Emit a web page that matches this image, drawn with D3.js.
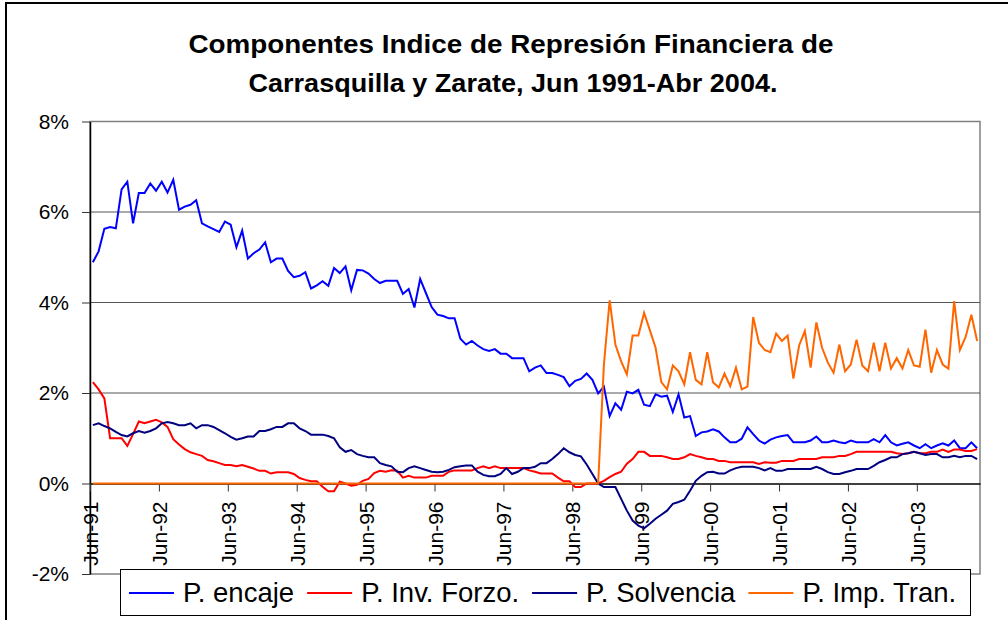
<!DOCTYPE html>
<html>
<head>
<meta charset="utf-8">
<script src="https://cdn.jsdelivr.net/npm/d3@7"></script>
<style>
  body { margin: 0; background: #fff; }
  text { font-family: "Liberation Sans", Arial, sans-serif; }
</style>
</head>
<body>
<svg id="chart" width="1008" height="620"></svg>
<script>
// monthly categories, Jun-91 .. Apr-04
var months = d3.timeMonth.range(new Date(1991, 5, 1), new Date(2004, 4, 1));
var xLabels = ["Jun-91","Jun-92","Jun-93","Jun-94","Jun-95","Jun-96","Jun-97","Jun-98","Jun-99","Jun-00","Jun-01","Jun-02","Jun-03"];
var yTicks = [-2, 0, 2, 4, 6, 8];

var encaje = [
  4.89,5.13,5.63,5.67,5.64,6.50,6.67,5.75,6.42,6.42,
  6.63,6.47,6.67,6.43,6.71,6.05,6.12,6.16,6.26,5.75,
  5.68,5.62,5.56,5.79,5.72,5.22,5.59,4.97,5.09,5.17,
  5.33,4.89,4.97,4.97,4.70,4.56,4.59,4.67,4.31,4.38,
  4.47,4.37,4.76,4.65,4.80,4.27,4.72,4.71,4.64,4.52,
  4.43,4.48,4.48,4.48,4.19,4.30,3.89,4.52,4.21,3.90,
  3.73,3.70,3.65,3.65,3.20,3.07,3.15,3.05,2.97,2.93,
  2.97,2.87,2.87,2.77,2.77,2.77,2.48,2.56,2.61,2.44,
  2.44,2.40,2.35,2.15,2.27,2.31,2.43,2.29,1.99,2.14,
  1.49,1.77,1.63,2.03,1.99,2.07,1.74,1.71,1.97,1.92,
  1.94,1.58,1.97,1.46,1.49,1.05,1.13,1.15,1.20,1.15,
  1.02,0.91,0.91,0.99,1.24,1.09,0.95,0.88,0.97,1.02,
  1.05,1.07,0.91,0.91,0.91,0.95,1.04,0.91,0.91,0.95,
  0.91,0.89,0.95,0.91,0.91,0.91,0.98,0.91,1.07,0.91,
  0.84,0.88,0.91,0.84,0.78,0.87,0.78,0.84,0.89,0.84,
  0.95,0.78,0.78,0.91,0.78
];
var invForzo = [
  2.24,2.08,1.88,1.00,1.00,1.00,0.83,1.09,1.37,1.33,
  1.37,1.41,1.35,1.25,0.98,0.86,0.76,0.69,0.65,0.61,
  0.52,0.49,0.45,0.41,0.41,0.38,0.41,0.37,0.33,0.28,
  0.28,0.22,0.25,0.25,0.25,0.21,0.12,0.08,0.05,0.05,
  -0.07,-0.17,-0.17,0.04,0.00,-0.05,-0.03,0.06,0.10,0.23,
  0.28,0.26,0.29,0.28,0.13,0.17,0.13,0.13,0.13,0.17,
  0.17,0.17,0.26,0.29,0.29,0.29,0.29,0.34,0.38,0.34,
  0.38,0.34,0.34,0.34,0.34,0.34,0.29,0.26,0.22,0.22,
  0.22,0.13,0.05,0.05,-0.08,-0.08,0.00,0.00,0.00,0.06,
  0.14,0.21,0.26,0.44,0.54,0.70,0.70,0.61,0.61,0.61,
  0.58,0.54,0.54,0.58,0.65,0.61,0.58,0.54,0.54,0.50,
  0.50,0.47,0.47,0.47,0.47,0.47,0.43,0.47,0.46,0.46,
  0.50,0.50,0.50,0.54,0.54,0.54,0.54,0.58,0.58,0.58,
  0.61,0.61,0.65,0.70,0.70,0.70,0.70,0.70,0.70,0.70,
  0.67,0.65,0.67,0.70,0.67,0.67,0.70,0.70,0.75,0.70,
  0.75,0.75,0.72,0.72,0.76
];
var solvencia = [
  1.29,1.33,1.27,1.22,1.14,1.07,1.04,1.11,1.16,1.12,
  1.16,1.22,1.33,1.36,1.33,1.29,1.29,1.33,1.22,1.29,
  1.29,1.25,1.18,1.11,1.03,0.97,1.00,1.04,1.04,1.16,
  1.16,1.20,1.25,1.25,1.33,1.33,1.22,1.16,1.08,1.08,
  1.08,1.05,1.00,0.80,0.70,0.74,0.65,0.61,0.58,0.58,
  0.45,0.41,0.38,0.26,0.25,0.34,0.38,0.34,0.30,0.26,
  0.25,0.26,0.30,0.36,0.38,0.40,0.40,0.26,0.19,0.16,
  0.16,0.21,0.34,0.21,0.26,0.34,0.34,0.37,0.45,0.45,
  0.54,0.65,0.78,0.69,0.63,0.60,0.42,0.21,0.00,-0.08,
  -0.08,-0.08,-0.34,-0.60,-0.82,-0.93,-0.99,-0.89,-0.78,-0.69,
  -0.60,-0.45,-0.41,-0.36,-0.16,0.06,0.17,0.25,0.26,0.22,
  0.22,0.29,0.34,0.37,0.37,0.37,0.34,0.29,0.34,0.28,
  0.28,0.32,0.32,0.32,0.32,0.32,0.37,0.32,0.25,0.21,
  0.21,0.25,0.28,0.32,0.32,0.32,0.39,0.47,0.52,0.58,
  0.58,0.65,0.67,0.70,0.67,0.63,0.65,0.65,0.58,0.58,
  0.61,0.58,0.61,0.61,0.54
];
var impTran = [
  0,0,0,0,0,0,0,0,0,0,
  0,0,0,0,0,0,0,0,0,0,
  0,0,0,0,0,0,0,0,0,0,
  0,0,0,0,0,0,0,0,0,0,
  0,0,0,0,0,0,0,0,0,0,
  0,0,0,0,0,0,0,0,0,0,
  0,0,0,0,0,0,0,0,0,0,
  0,0,0,0,0,0,0,0,0,0,
  0,0,0,0,0,0,0,0,0,2.63,
  4.05,3.07,2.70,2.41,3.27,3.27,3.77,3.39,3.00,2.24,
  2.08,2.61,2.48,2.19,2.90,2.29,2.19,2.90,2.24,2.12,
  2.43,2.15,2.56,2.08,2.14,3.68,3.11,2.95,2.90,3.31,
  3.15,3.27,2.32,3.05,3.37,2.56,3.56,3.00,2.67,2.45,
  3.07,2.48,2.63,3.18,2.61,2.48,3.11,2.48,3.11,2.54,
  2.77,2.54,2.95,2.61,2.58,3.40,2.45,2.95,2.63,2.54,
  4.03,2.95,3.24,3.73,3.15
];

var seriesNames = ["P. encaje", "P. Inv. Forzo.", "P. Solvencia", "P. Imp. Tran."];
var seriesColors = ["#0000ff", "#ff0000", "#000080", "#ff6600"];
var seriesData = [encaje, invForzo, solvencia, impTran];

var svg = d3.select("#chart");

var plotLeft = 90, plotRight = 980, plotTop = 121.5, plotBottom = 574;

var x = d3.scaleLinear().domain([0, months.length]).range([plotLeft, plotRight]);
var y = d3.scaleLinear().domain([-2, 8]).range([plotBottom, plotTop]);

svg.append("rect").attr("width", 1008).attr("height", 620).attr("fill", "#fff");
// chart frame (right and bottom edges run off the picture)
svg.append("rect")
    .attr("x", 6).attr("y", 3).attr("width", 1100).attr("height", 700)
    .attr("fill", "none").attr("stroke", "#000").attr("stroke-width", 2);

// title (the original is a bit stretched sideways)
svg.append("text").attr("x", 511).attr("y", 53).attr("text-anchor", "middle")
    .attr("font-size", 25).attr("font-weight", "bold")
    .attr("textLength", 645).attr("lengthAdjust", "spacingAndGlyphs")
    .text("Componentes Indice de Represión Financiera de");
svg.append("text").attr("x", 513).attr("y", 92).attr("text-anchor", "middle")
    .attr("font-size", 25).attr("font-weight", "bold")
    .attr("textLength", 529).attr("lengthAdjust", "spacingAndGlyphs")
    .text("Carrasquilla y Zarate, Jun 1991-Abr 2004.");

// plot area border
svg.append("rect")
    .attr("x", plotLeft).attr("y", plotTop)
    .attr("width", plotRight - plotLeft).attr("height", plotBottom - plotTop)
    .attr("fill", "none").attr("stroke", "#808080").attr("stroke-width", 1.5);

// gridlines
svg.append("g").selectAll("line")
    .data([2, 4, 6])
  .enter().append("line")
    .attr("x1", plotLeft).attr("x2", plotRight)
    .attr("y1", function(d) { return y(d); })
    .attr("y2", function(d) { return y(d); })
    .attr("stroke", "#555").attr("stroke-width", 1);

// y axis
var yAxis = svg.append("g")
    .attr("transform", "translate(" + plotLeft + ",0)")
    .call(d3.axisLeft(y).tickValues(yTicks).tickFormat(function(d) { return d + "%"; })
      .tickSize(8).tickSizeOuter(0).tickPadding(13));
yAxis.attr("font-size", 21).attr("font-family", null);
yAxis.selectAll("text").attr("fill", "#000");
yAxis.selectAll("line").attr("stroke", "#333");
yAxis.select(".domain").attr("stroke", "#000").attr("stroke-width", 1.5);

// x axis at 0%
var xAxis = svg.append("g")
    .attr("transform", "translate(0," + y(0) + ")")
    .call(d3.axisBottom(x).tickValues(d3.range(0, 145, 12))
      .tickFormat(function(d, i) { return xLabels[i]; })
      .tickSize(8).tickSizeOuter(0));
xAxis.attr("font-size", 21).attr("font-family", null);
xAxis.select(".domain").attr("stroke", "#000").attr("stroke-width", 1.5);
xAxis.selectAll("line").attr("stroke", "#333");
xAxis.selectAll("text")
    .attr("fill", "#000")
    .attr("transform", "rotate(-90)")
    .attr("text-anchor", "end")
    .attr("x", -18).attr("y", 0).attr("dy", "0.36em");

// series
var line = d3.line()
    .x(function(d, i) { return x(i + 0.5); })
    .y(function(d) { return y(d); });

svg.append("g").selectAll("path")
    .data(seriesData)
  .enter().append("path")
    .attr("d", line)
    .attr("fill", "none")
    .attr("stroke", function(d, i) { return seriesColors[i]; })
    .attr("stroke-width", 2);

// legend
var legend = svg.append("g");
legend.append("rect")
    .attr("x", 120.5).attr("y", 569.5).attr("width", 850).attr("height", 46)
    .attr("fill", "#fff").attr("stroke", "#000").attr("stroke-width", 1);
var lx = 129;
seriesNames.forEach(function(name, i) {
  legend.append("line")
      .attr("x1", lx).attr("x2", lx + 45).attr("y1", 593).attr("y2", 593)
      .attr("stroke", seriesColors[i]).attr("stroke-width", 2);
  var t = legend.append("text")
      .attr("x", lx + 54).attr("y", 602)
      .attr("font-size", 27.5).attr("fill", "#000")
      .text(name);
  lx += 54 + t.node().getComputedTextLength() + 13;
});
</script>
</body>
</html>
